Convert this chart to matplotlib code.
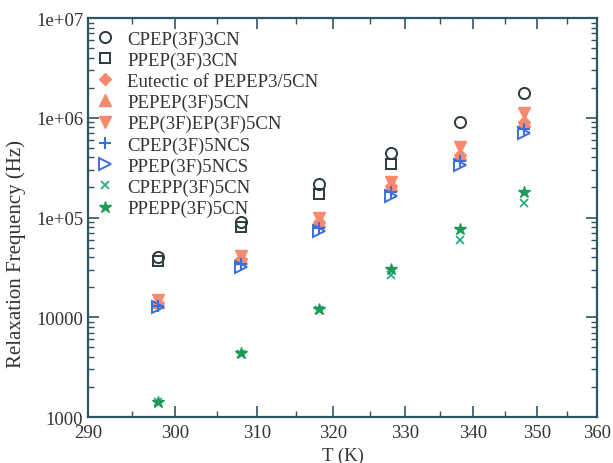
import numpy as np
import matplotlib
matplotlib.use("Agg")
import matplotlib.pyplot as plt
from matplotlib.ticker import FixedLocator, FixedFormatter, LogLocator, NullFormatter

plt.rcParams['font.family'] = ['Liberation Serif', 'DejaVu Serif']

# temperatures (K)
T = [298, 308, 318, 328, 338, 348]
T4 = [298, 308, 318, 328]

# relaxation frequencies (Hz)
cpep3cn = [40400, 90600, 218000, 446000, 906000, 1780000]
ppep3cn = [36800, 80000, 173000, 345000]
eutectic = [13800, 38500, 90000, 205000, 420000, 900000]
pepep5cn = [14200, 39000, 92000, 212000, 430000, 930000]
pepep_f_5cn = [15000, 41000, 99000, 226000, 508000, 1110000]
cpep5ncs = [13000, 34000, 79000, 180000, 370000, 780000]
ppep5ncs = [12600, 32000, 73600, 165000, 338000, 708000]
cpepp5cn = [1400, 4300, 11800, 26600, 60200, 139000]
ppepp5cn = [1420, 4350, 12000, 30500, 77000, 179000]

labels = ['CPEP(3F)3CN', 'PPEP(3F)3CN', 'Eutectic of PEPEP3/5CN', 'PEPEP(3F)5CN',
          'PEP(3F)EP(3F)5CN', 'CPEP(3F)5NCS', 'PPEP(3F)5NCS', 'CPEPP(3F)5CN', 'PPEPP(3F)5CN']

dark = '#2b3a3f'
orange = '#f7896f'
blue = '#3c6fd6'
teal = '#2ea98c'
green = '#1d9a55'
frame = '#2d5562'
txt = '#333333'

fig = plt.figure(figsize=(6.13, 4.64), dpi=100)
ax = fig.add_axes([0.1436, 0.0991, 0.8304, 0.8599])

# axis is linear in 1/T
ax.set_xscale('function', functions=(lambda x: -1.0 / np.asarray(x, float),
                                     lambda y: -1.0 / np.asarray(y, float)))
ax.set_yscale('log')

ms = 8
ax.plot(T, cpep3cn, 'o', mfc='none', mec=dark, mew=1.4, ms=ms, label=labels[0], ls='none')
ax.plot(T4, ppep3cn, 's', mfc='none', mec=dark, mew=1.4, ms=7, label=labels[1], ls='none')
ax.plot(T, eutectic, 'D', color=orange, ms=6.5, label=labels[2], ls='none')
ax.plot(T, pepep5cn, '^', color=orange, ms=ms, label=labels[3], ls='none')
ax.plot(T, pepep_f_5cn, 'v', color=orange, ms=ms, label=labels[4], ls='none')
ax.plot(T, cpep5ncs, '+', color=blue, ms=ms, mew=1.5, label=labels[5], ls='none')
ax.plot(T, ppep5ncs, '>', mfc='none', mec=blue, mew=1.4, ms=ms, label=labels[6], ls='none')
ax.plot(T, cpepp5cn, 'x', color=teal, ms=6, mew=1.3, label=labels[7], ls='none')
ax.plot(T, ppepp5cn, '*', color=green, ms=9, label=labels[8], ls='none')

ax.set_xlim(290, 360)
ax.set_ylim(1000, 1e7)

ax.xaxis.set_major_locator(FixedLocator([290, 300, 310, 320, 330, 340, 350, 360]))
ax.xaxis.set_major_formatter(FixedFormatter(['290', '300', '310', '320', '330', '340', '350', '360']))
ax.xaxis.set_minor_locator(FixedLocator([295, 305, 315, 325, 335, 345, 355]))
ax.xaxis.set_minor_formatter(NullFormatter())

ax.yaxis.set_major_locator(FixedLocator([1e3, 1e4, 1e5, 1e6, 1e7]))
ax.yaxis.set_major_formatter(FixedFormatter(['1000', '10000', '1e+05', '1e+06', '1e+07']))
ax.yaxis.set_minor_locator(LogLocator(base=10, subs=np.arange(2, 10)))
ax.yaxis.set_minor_formatter(NullFormatter())

ax.tick_params(which='both', direction='in', top=True, right=True, color=frame,
               labelsize=13.5, labelcolor=txt)
ax.tick_params(axis='x', which='major', pad=5)
ax.tick_params(which='major', length=8, width=1.2)
ax.tick_params(which='minor', length=4, width=1.0)
for s in ax.spines.values():
    s.set_color(frame)
    s.set_linewidth(1.6)

ax.set_xlabel('T (K)', fontsize=13.5, color=txt, labelpad=4)
ax.set_ylabel('Relaxation Frequency (Hz)', fontsize=15, color=txt)
ax.yaxis.set_label_coords(-0.122, 0.411)

ax.legend(loc='upper left', bbox_to_anchor=(0.0, 0.9835), frameon=False, fontsize=13.5,
          handletextpad=0.6, labelspacing=0.21, borderaxespad=0.2, borderpad=0.1,
          handlelength=1.2, numpoints=1, labelcolor=txt)

fig.savefig('out.png', dpi=100)
